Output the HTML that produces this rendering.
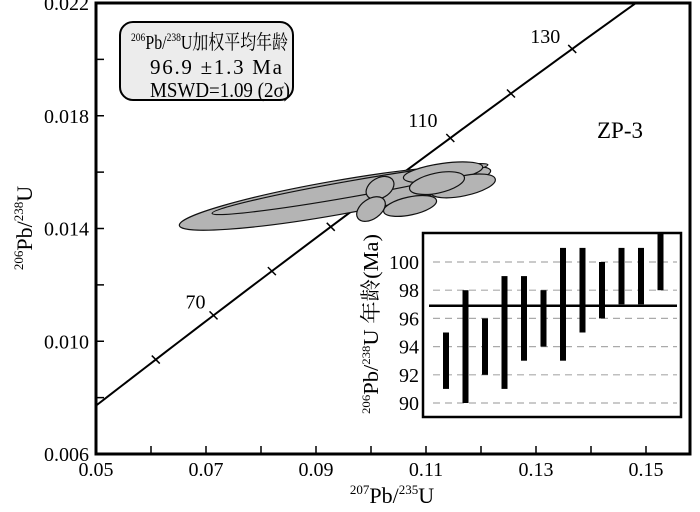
<!DOCTYPE html>
<html><head><meta charset="utf-8"><style>
body{margin:0;background:#fff}
svg text{font-family:"Liberation Serif","Noto Serif CJK SC",serif;fill:#000}
</style></head><body>
<svg id="c" width="700" height="507" viewBox="0 0 700 507" xmlns="http://www.w3.org/2000/svg"></svg>
<script>
const xTicks=[0.05,0.07,0.09,0.11,0.13,0.15];
const xMinor=[0.06,0.08,0.10,0.12,0.14];
const yTicks=[0.006,0.010,0.014,0.018,0.022];
const yMinor=[0.008,0.012,0.016,0.020];
const ageTicks=[60,70,80,90,100,110,120,130];
const ageLabels=[70,110,130];
const ellCx=[0.09345,0.09618,0.1131,0.11673,0.1120,0.1071,0.10164,0.1000];
const ellCy=[0.01508,0.01540,0.01599,0.01551,0.01561,0.01480,0.01544,0.01469];
const ellRx=[158,140,40,33,28,27,15,16];
const ellRy=[17,8,9,10,10,9,10,10];
const ellAng=[-10,-10,-8,-12,-12,-12,-30,-35];
const insetTicks=[90,92,94,96,98,100];
const ageLow=[91,90,92,91,93,94,93,95,96,97,97,98];
const ageHigh=[95,98,96,99,99,98,101,101,100,101,101,102.5];
const meanAge=96.9;

const svg=document.getElementById('c');
const NS='http://www.w3.org/2000/svg';
function mk(t,a,p){const e=document.createElementNS(NS,t);for(const k in a)e.setAttribute(k,a[k]);(p||svg).appendChild(e);return e;}
const L=96,R=690,T=3,B=454;
const X=v=>L+(v-0.05)/(0.158-0.05)*(R-L);
const Y=v=>B-(v-0.006)/(0.022-0.006)*(B-T);
const l238=1.55125e-10,l235=9.8485e-10;
const c206=t=>Math.exp(l238*t*1e6)-1, c207=t=>Math.exp(l235*t*1e6)-1;

const cp=mk('clipPath',{id:'pc'});
mk('rect',{x:L,y:T,width:R-L,height:B-T},cp);
const g=mk('g',{'clip-path':'url(#pc)'});


let pts=[];for(let t=40;t<=160;t+=2)pts.push(X(c207(t))+','+Y(c206(t)));
const cl=mk('polyline',{points:pts.join(' '),fill:'none',stroke:'#000','stroke-width':2},g);

ageTicks.forEach(a=>{const x=X(c207(a)),y=Y(c206(a));
 const tk=mk('path',{d:`M${x-4},${y-4}L${x+4},${y+4}`,stroke:'#000','stroke-width':1.5},g);
 });
for(let i=0;i<ellCx.length;i++){
 const e=mk('ellipse',{cx:X(ellCx[i]),cy:Y(ellCy[i]),rx:ellRx[i],ry:ellRy[i],transform:`rotate(${ellAng[i]} ${X(ellCx[i])} ${Y(ellCy[i])})`,fill:'#b4b4b4',stroke:'#111','stroke-width':1.2},g);
 
 
}
const lblOff={70:[-28,-7],110:[-42,-11],130:[-42,-6]};
ageLabels.forEach(a=>{const t=mk('text',{x:X(c207(a))+lblOff[a][0],y:Y(c206(a))+lblOff[a][1],'font-size':20});t.textContent=a;
 });

const fr=mk('rect',{x:L,y:T,width:R-L,height:B-T,fill:'none',stroke:'#000','stroke-width':3});

xTicks.concat(xMinor).forEach(v=>mk('line',{x1:X(v),x2:X(v),y1:B,y2:B-8,stroke:'#000','stroke-width':1.5}));
yTicks.concat(yMinor).forEach(v=>mk('line',{x1:L,x2:L+8,y1:Y(v),y2:Y(v),stroke:'#000','stroke-width':1.5}));
xTicks.forEach(v=>{const t=mk('text',{x:X(v),y:B+22,'font-size':20,'text-anchor':'middle'});t.textContent=v.toFixed(2);
 });
yTicks.forEach(v=>{const t=mk('text',{x:L-7,y:Y(v)+7,'font-size':20,'text-anchor':'end'});t.textContent=v.toFixed(3);
 });

const xt=mk('text',{x:392,y:503,'font-size':22,'text-anchor':'middle'});
xt.innerHTML='<tspan font-size="13" dy="-9">207</tspan><tspan dy="9">Pb/</tspan><tspan font-size="13" dy="-9">235</tspan><tspan dy="9">U</tspan>';

const yt=mk('text',{x:0,y:0,'font-size':22,'text-anchor':'middle',transform:'translate(32,228) rotate(-90)'});
yt.innerHTML='<tspan font-size="13" dy="-9">206</tspan><tspan dy="9">Pb/</tspan><tspan font-size="13" dy="-9">238</tspan><tspan dy="9">U</tspan>';


const bx=mk('rect',{x:120,y:22,width:173,height:78,rx:13,fill:'#ececec',stroke:'#000','stroke-width':2});

const b1=mk('text',{x:131,y:49,'font-size':20,textLength:157,lengthAdjust:'spacingAndGlyphs'});
b1.innerHTML='<tspan font-size="12" dy="-8">206</tspan><tspan dy="8">Pb/</tspan><tspan font-size="12" dy="-8">238</tspan><tspan dy="8">U加权平均年龄</tspan>';

const b2=mk('text',{x:150,y:74,'font-size':21,textLength:132,lengthAdjust:'spacing'});b2.textContent='96.9 ±1.3  Ma';

const b3=mk('text',{x:150,y:97,'font-size':21,textLength:140,lengthAdjust:'spacingAndGlyphs'});b3.textContent='MSWD=1.09 (2σ)';

const zp=mk('text',{x:597,y:138,'font-size':23});zp.textContent='ZP-3';


const iL=423,iR=681,iT=233,iB=417;
const IY=v=>403-(v-90)*(403-262)/10;
const IX=i=>446+i*19.5;
const ib=mk('rect',{x:iL,y:iT,width:iR-iL,height:iB-iT,fill:'#fff',stroke:'#000','stroke-width':2.5});

insetTicks.forEach(v=>{const gl=mk('line',{x1:iL+10,x2:iR-4,y1:IY(v),y2:IY(v),stroke:'#aaa','stroke-width':1.2,'stroke-dasharray':'7,5'});
 
 const t=mk('text',{x:iL-4,y:IY(v)+7,'font-size':20,'text-anchor':'end'});t.textContent=v;
 });
for(let i=0;i<ageLow.length;i++){
 const top=Math.max(IY(ageHigh[i]),iT+1);
 const r=mk('rect',{x:IX(i)-3,y:top,width:6,height:IY(ageLow[i])-top,fill:'#000'});
 
}
const ml=mk('line',{x1:iL+6,x2:iR-4,y1:IY(meanAge),y2:IY(meanAge),stroke:'#000','stroke-width':2.5});

const it=mk('text',{x:0,y:0,'font-size':21,'text-anchor':'middle',textLength:180,lengthAdjust:'spacingAndGlyphs',transform:'translate(378,324) rotate(-90)'});
it.innerHTML='<tspan font-size="12" dy="-8">206</tspan><tspan dy="8">Pb/</tspan><tspan font-size="12" dy="-8">238</tspan><tspan dy="8">U 年龄(Ma)</tspan>';

</script>
</body></html>
